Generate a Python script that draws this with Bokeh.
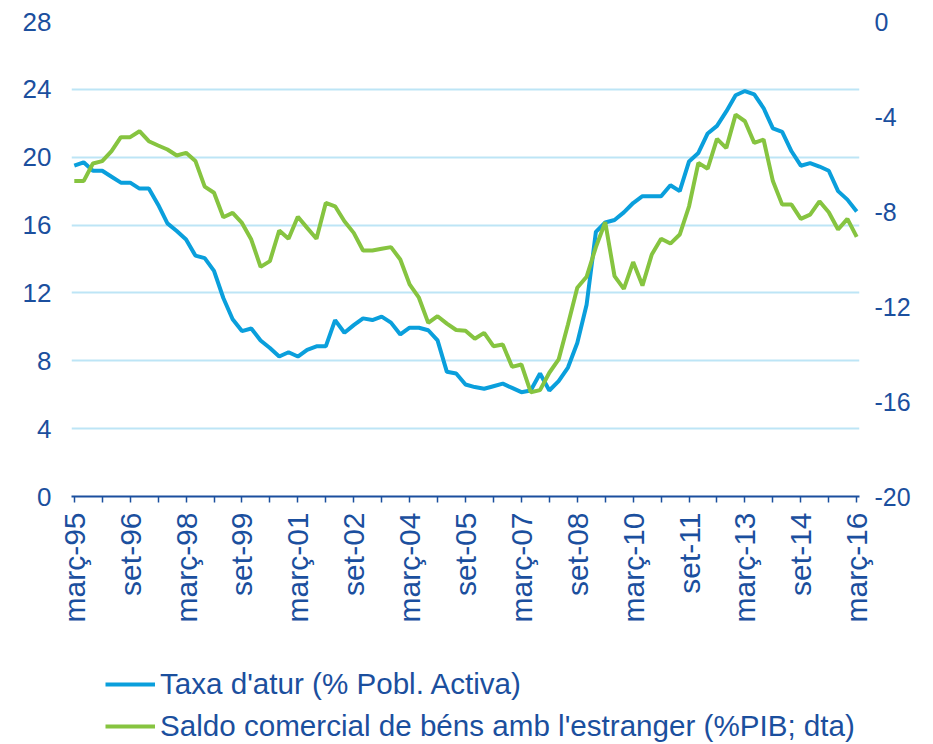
import math
from bokeh.plotting import figure
from bokeh.layouts import column
from bokeh.models import Range1d, LinearAxis, FixedTicker, Legend, LegendItem, ColumnDataSource
from bokeh.embed import file_html
from bokeh.resources import INLINE

# Quarterly data, March 1995 .. March 2016 (85 quarters)
quarter_index = list(range(85))

taxa_atur = [
    19.5, 19.7, 19.2, 19.2, 18.85, 18.5, 18.5, 18.15, 18.15, 17.2,
    16.1, 15.65, 15.15, 14.2, 14.05, 13.3, 11.7, 10.45, 9.75, 9.9,
    9.2, 8.75, 8.25, 8.5, 8.25, 8.65, 8.85, 8.85, 10.4, 9.65,
    10.1, 10.5, 10.4, 10.6, 10.25, 9.55, 9.95, 9.95, 9.8, 9.2,
    7.35, 7.25, 6.6, 6.45, 6.35, 6.5, 6.65, 6.4, 6.15, 6.25,
    7.25, 6.25, 6.8, 7.6, 9.05, 11.3, 15.6, 16.15, 16.3, 16.75,
    17.3, 17.7, 17.7, 17.7, 18.35, 18.0, 19.75, 20.25, 21.4, 21.85,
    22.7, 23.65, 23.9, 23.7, 22.9, 21.7, 21.5, 20.35, 19.5, 19.65,
    19.45, 19.2, 18.0, 17.5, 16.8,
]

saldo_comercial = [
    -6.72, -6.72, -5.98, -5.88, -5.46, -4.87, -4.87, -4.62, -5.04, -5.22,
    -5.39, -5.64, -5.53, -5.87, -6.95, -7.21, -8.24, -8.06, -8.48, -9.18,
    -10.33, -10.09, -8.8, -9.15, -8.22, -8.69, -9.15, -7.64, -7.78, -8.41,
    -8.9, -9.64, -9.64, -9.57, -9.5, -10.02, -11.07, -11.63, -12.69, -12.41,
    -12.72, -12.99, -13.02, -13.36, -13.11, -13.67, -13.6, -14.54, -14.44, -15.61,
    -15.52, -14.79, -14.23, -12.76, -11.21, -10.75, -9.5, -8.45, -10.72, -11.26,
    -10.13, -11.12, -9.81, -9.15, -9.35, -8.97, -7.78, -5.95, -6.2, -4.94,
    -5.33, -3.92, -4.2, -5.11, -4.97, -6.72, -7.71, -7.71, -8.31, -8.13,
    -7.57, -8.03, -8.76, -8.31, -9.07,
]

tick_positions = [0, 6, 12, 18, 24, 30, 36, 42, 48, 54, 60, 66, 72, 78, 84]
tick_labels = ["març-95", "set-96", "març-98", "set-99", "març-01", "set-02",
               "març-04", "set-05", "març-07", "set-08", "març-10", "set-11",
               "març-13", "set-14", "març-16"]
minor_positions = [3, 9, 15, 21, 27, 33, 39, 45, 51, 57, 63, 69, 75, 81]

left_ticks = [0, 4, 8, 12, 16, 20, 24, 28]
right_ticks = [-20, -16, -12, -8, -4, 0]
right_tick_labels = ["-20", "-16", "-12", "-8", "-4", "0"]

label_taxa = "Taxa d'atur (% Pobl. Activa)"
label_saldo = "Saldo comercial de béns amb l'estranger (%PIB; dta)"

BLUE = "#0A9FDC"
GREEN = "#86C440"
TEXT = "#1B4F9E"
GRID = "#BDE5F6"
FONT = "Liberation Sans"

src = ColumnDataSource(dict(x=quarter_index, taxa=taxa_atur, saldo=saldo_comercial))

BOTTOM = 134
p = figure(frame_width=788, frame_height=475,
           x_range=Range1d(-0.3, 84.3), y_range=Range1d(0, 28),
           output_backend="svg", toolbar_location=None,
           min_border_left=71, min_border_right=58,
           min_border_top=21, min_border_bottom=BOTTOM)
p.outline_line_color = None
p.background_fill_color = "white"
p.border_fill_color = "white"
p.extra_y_ranges = {"saldo": Range1d(-20, 0)}

# x axis
xa = p.xaxis[0]
xa.ticker = FixedTicker(ticks=tick_positions, minor_ticks=minor_positions)
xa.major_label_overrides = {t: l for t, l in zip(tick_positions, tick_labels)}
xa.major_label_orientation = math.pi / 2
xa.axis_line_color = TEXT
xa.axis_line_width = 2
xa.major_tick_line_color = TEXT
xa.minor_tick_line_color = TEXT
xa.major_tick_line_width = 1.5
xa.minor_tick_line_width = 1.5
xa.major_tick_in = 0
xa.minor_tick_in = 0
xa.major_tick_out = 6
xa.minor_tick_out = 6
xa.major_label_standoff = 10
xa.major_label_text_font = FONT
xa.major_label_text_font_size = "30px"
xa.major_label_text_color = TEXT

# left y axis
ya = p.yaxis[0]
ya.ticker = FixedTicker(ticks=left_ticks)
ya.axis_line_color = None
ya.major_tick_line_color = None
ya.minor_tick_line_color = None
ya.major_label_standoff = 14
ya.major_label_text_font = FONT
ya.major_label_text_font_size = "26px"
ya.major_label_text_color = TEXT

# right y axis
ra = LinearAxis(y_range_name="saldo", ticker=FixedTicker(ticks=right_ticks))
ra.major_label_overrides = {t: l for t, l in zip(right_ticks, right_tick_labels)}
ra.axis_line_color = None
ra.major_tick_line_color = None
ra.minor_tick_line_color = None
ra.major_label_standoff = 9
ra.major_label_text_font = FONT
ra.major_label_text_font_size = "25px"
ra.major_label_text_color = TEXT
p.add_layout(ra, "right")

p.xgrid.visible = False
p.ygrid.ticker = FixedTicker(ticks=left_ticks)
p.ygrid.grid_line_color = GRID
p.ygrid.grid_line_width = 2

r1 = p.line("x", "taxa", source=src, color=BLUE, line_width=4)
r2 = p.line("x", "saldo", source=src, y_range_name="saldo", color=GREEN, line_width=4)

# legend strip below the chart (its line renderers sit outside the visible range)
H1 = 21 + 475 + BOTTOM
p2 = figure(frame_width=917, frame_height=744 - H1,
            x_range=Range1d(0, 1), y_range=Range1d(0, 1),
            x_axis_type=None, y_axis_type=None,
            output_backend="svg", toolbar_location=None,
            min_border=0)
p2.outline_line_color = None
p2.grid.visible = False
p2.border_fill_color = "white"
k1 = p2.line(x=[5, 6], y=[5, 5], color=BLUE, line_width=4)
k2 = p2.line(x=[5, 6], y=[6, 6], color=GREEN, line_width=4)

legend = Legend(items=[LegendItem(label=label_taxa, renderers=[k1]),
                       LegendItem(label=label_saldo, renderers=[k2])],
                location=(105, 1), orientation="vertical")
legend.border_line_color = None
legend.background_fill_alpha = 0
legend.margin = 0
legend.padding = 0
legend.glyph_width = 50
legend.glyph_height = 30
legend.label_height = 30
legend.spacing = 8
legend.label_standoff = 5
legend.label_text_font = FONT
legend.label_text_font_size = "29.6px"
legend.label_text_color = TEXT
p2.add_layout(legend, "center")

layout = column(p, p2, spacing=0)
open("out.html", "w").write(file_html(layout, INLINE))
